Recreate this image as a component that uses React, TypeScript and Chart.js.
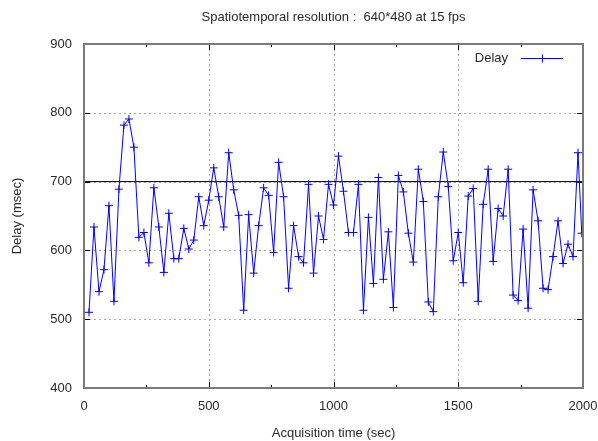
import React, { useEffect, useRef } from "react";
import { Chart, registerables } from "chart.js";

Chart.register(...registerables);

const TITLE = "Spatiotemporal resolution :  640*480 at 15 fps";
const X_TITLE = "Acquisition time (sec)";
const Y_TITLE = "Delay (msec)";
const SERIES_LABEL = "Delay";

const TIME_SEC = [
  20, 40, 60, 80, 100, 120, 140, 160, 180, 200,
  220, 240, 260, 280, 300, 320, 340, 360, 380, 400,
  420, 440, 460, 480, 500, 520, 540, 560, 580, 600,
  620, 640, 660, 680, 700, 720, 740, 760, 780, 800,
  820, 840, 860, 880, 900, 920, 940, 960, 980, 1000,
  1020, 1040, 1060, 1080, 1100, 1120, 1140, 1160, 1180, 1200,
  1220, 1240, 1260, 1280, 1300, 1320, 1340, 1360, 1380, 1400,
  1420, 1440, 1460, 1480, 1500, 1520, 1540, 1560, 1580, 1600,
  1620, 1640, 1660, 1680, 1700, 1720, 1740, 1760, 1780, 1800,
  1820, 1840, 1860, 1880, 1900, 1920, 1940, 1960, 1980, 1995,
];

const DELAY_MS = [
  510, 634, 540, 572, 665, 526, 689, 782, 791, 750,
  619, 626, 582, 691, 634, 568, 654, 588, 588, 632,
  602, 615, 678, 636, 673, 720, 678, 634, 742, 688,
  651, 513, 652, 567, 636, 691, 680, 597, 728, 678,
  545, 636, 591, 582, 696, 567, 650, 616, 696, 666,
  737, 686, 626, 626, 696, 513, 648, 552, 706, 558,
  627, 517, 709, 685, 625, 583, 718, 671, 525, 511,
  678, 743, 693, 585, 626, 553, 679, 690, 526, 667,
  718, 584, 661, 650, 718, 535, 527, 631, 516, 688,
  643, 545, 543, 591, 643, 581, 609, 591, 742, 625,
];

const REF_LINE_X = [0, 2000];
const REF_LINE_Y = [700, 700];

const X_MIN = 0;
const X_MAX = 2000;
const X_STEP = 500;
const X_MINOR = [250, 750, 1250, 1750];
const Y_MIN = 400;
const Y_MAX = 900;
const Y_STEP = 100;

const FONT = "'Liberation Sans', Arial, sans-serif";
const TEXT_COLOR = "#2a2a2a";
const BLUE = "rgb(0,0,255)";

const framePlugin = {
  id: "gnuplotFrame",
  beforeDatasetsDraw(chart: any) {
    const { ctx, chartArea: a, scales } = chart;
    const xs = scales.x;
    const ys = scales.y;
    ctx.save();
    ctx.strokeStyle = "#a8a8a8";
    ctx.lineWidth = 1;
    ctx.setLineDash([2, 3]);
    for (let v = X_MIN + X_STEP; v < X_MAX; v += X_STEP) {
      const px = Math.round(xs.getPixelForValue(v)) + 0.5;
      ctx.beginPath();
      ctx.moveTo(px, a.top);
      ctx.lineTo(px, a.bottom);
      ctx.stroke();
    }
    for (let v = Y_MIN + Y_STEP; v < Y_MAX; v += Y_STEP) {
      const py = Math.round(ys.getPixelForValue(v)) + 0.5;
      ctx.beginPath();
      ctx.moveTo(a.left, py);
      ctx.lineTo(a.right, py);
      ctx.stroke();
    }
    ctx.setLineDash([]);
    ctx.strokeStyle = "#000";
    ctx.lineWidth = 1;
    const major = 6;
    const minor = 3;
    for (let v = X_MIN + X_STEP; v < X_MAX; v += X_STEP) {
      const px = Math.round(xs.getPixelForValue(v)) + 0.5;
      ctx.beginPath();
      ctx.moveTo(px, a.bottom);
      ctx.lineTo(px, a.bottom - major);
      ctx.moveTo(px, a.top);
      ctx.lineTo(px, a.top + major);
      ctx.stroke();
    }
    for (const v of X_MINOR) {
      const px = Math.round(xs.getPixelForValue(v)) + 0.5;
      ctx.beginPath();
      ctx.moveTo(px, a.bottom);
      ctx.lineTo(px, a.bottom - minor);
      ctx.moveTo(px, a.top);
      ctx.lineTo(px, a.top + minor);
      ctx.stroke();
    }
    for (let v = Y_MIN + Y_STEP; v < Y_MAX; v += Y_STEP) {
      const py = Math.round(ys.getPixelForValue(v)) + 0.5;
      ctx.beginPath();
      ctx.moveTo(a.left, py);
      ctx.lineTo(a.left + major, py);
      ctx.moveTo(a.right, py);
      ctx.lineTo(a.right - major, py);
      ctx.stroke();
    }
    ctx.restore();
  },
  afterDatasetsDraw(chart: any) {
    const { ctx, chartArea: a } = chart;
    ctx.save();
    ctx.strokeStyle = "#7a7a7a";
    ctx.lineWidth = 2;
    ctx.strokeRect(a.left, a.top, a.right - a.left, a.bottom - a.top);
    ctx.fillStyle = TEXT_COLOR;
    ctx.font = `13px ${FONT}`;
    ctx.textAlign = "center";
    ctx.textBaseline = "middle";
    ctx.fillText(TITLE, (a.left + a.right) / 2, 17);
    const ds = chart.data.datasets[0];
    const ly = a.top + 14;
    ctx.textAlign = "right";
    ctx.fillText(ds.label, a.right - 75, ly);
    ctx.strokeStyle = BLUE;
    ctx.lineWidth = 1;
    const x0 = a.right - 62;
    const x1 = a.right - 20;
    ctx.beginPath();
    ctx.moveTo(x0, ly + 0.5);
    ctx.lineTo(x1, ly + 0.5);
    const cx = Math.round((x0 + x1) / 2) + 0.5;
    ctx.moveTo(cx, ly - 3.5);
    ctx.lineTo(cx, ly + 4.5);
    ctx.stroke();
    ctx.restore();
  },
};

export default function App() {
  const ref = useRef<HTMLCanvasElement | null>(null);

  useEffect(() => {
    if (!ref.current) return;
    const points = TIME_SEC.map((t, i) => ({ x: t, y: DELAY_MS[i] }));
    const refLine = REF_LINE_X.map((t, i) => ({ x: t, y: REF_LINE_Y[i] }));
    const chart = new Chart(ref.current, {
      type: "line",
      data: {
        datasets: [
          {
            label: SERIES_LABEL,
            data: points,
            borderColor: BLUE,
            backgroundColor: BLUE,
            borderWidth: 1,
            pointStyle: "cross",
            pointRadius: 4,
            pointBorderWidth: 1,
            pointBorderColor: BLUE,
            tension: 0,
            fill: false,
          },
          {
            label: "",
            data: refLine,
            borderColor: "#000",
            borderWidth: 1,
            pointRadius: 0,
            tension: 0,
            fill: false,
          },
        ],
      },
      options: {
        animation: false,
        responsive: false,
        maintainAspectRatio: false,
        layout: { padding: { top: 44, right: 15, bottom: 0, left: 10 } },
        plugins: {
          legend: { display: false },
          title: { display: false },
          tooltip: { enabled: false },
        },
        scales: {
          x: {
            type: "linear",
            min: X_MIN,
            max: X_MAX,
            border: { display: false },
            grid: { display: false, drawTicks: false },
            ticks: {
              stepSize: X_STEP,
              color: TEXT_COLOR,
              font: { family: FONT, size: 13 },
              padding: 11,
              maxRotation: 0,
              callback: (v: any) => String(v),
            },
            title: {
              display: true,
              text: X_TITLE,
              color: TEXT_COLOR,
              font: { family: FONT, size: 13 },
              padding: { top: 0, bottom: 0 },
            },
            afterFit(scale: any) {
              scale.height = 53;
              scale.paddingLeft = 0;
              scale.paddingRight = 0;
            },
          },
          y: {
            type: "linear",
            min: Y_MIN,
            max: Y_MAX,
            border: { display: false },
            grid: { display: false, drawTicks: false },
            ticks: {
              stepSize: Y_STEP,
              color: TEXT_COLOR,
              font: { family: FONT, size: 13 },
              padding: 12,
              callback: (v: any) => String(v),
            },
            title: {
              display: true,
              text: Y_TITLE,
              color: TEXT_COLOR,
              font: { family: FONT, size: 13 },
              padding: { top: 0, bottom: 0 },
            },
            afterFit(scale: any) {
              scale.width = 74;
              scale.paddingTop = 0;
              scale.paddingBottom = 0;
            },
          },
        },
      },
      plugins: [framePlugin],
    });
    return () => chart.destroy();
  }, []);

  return (
    <div style={{ position: "fixed", left: 0, top: 0, width: 598, height: 441, background: "#fff" }}>
      <canvas ref={ref} width={598} height={441} style={{ display: "block" }} />
    </div>
  );
}
